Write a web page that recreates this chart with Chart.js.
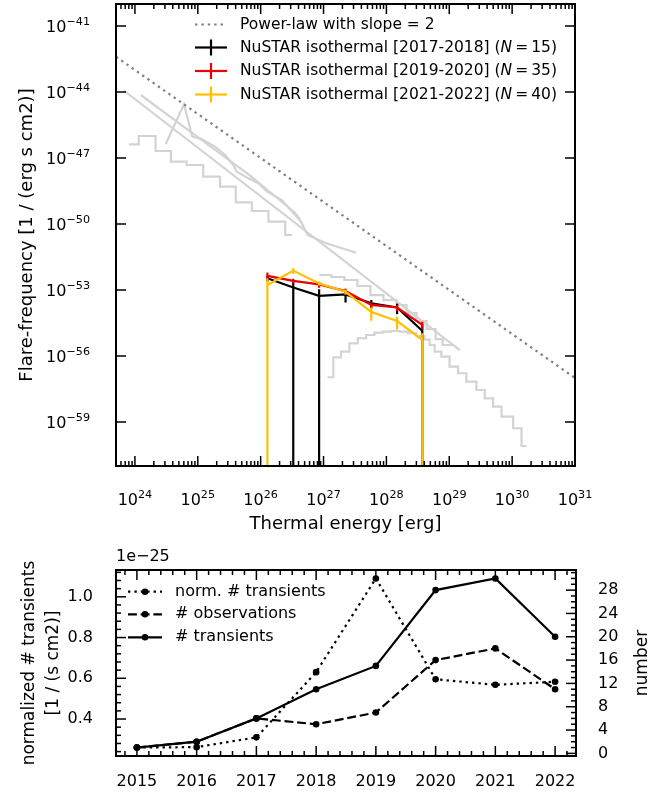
<!DOCTYPE html>
<html>
<head>
<meta charset="utf-8">
<script src="https://cdn.jsdelivr.net/npm/chart.js@4/dist/chart.umd.min.js"></script>
<style>
  html, body { margin: 0; padding: 0; background: #fff; }
  #wrap { position: relative; width: 668px; height: 797px; }
  #topBox { position: absolute; left: 0; top: 0; width: 668px; height: 540px; }
  #botBox { position: absolute; left: 0; top: 540px; width: 668px; height: 257px; }
</style>
</head>
<body>
<div id="wrap">
  <div id="topBox"><canvas id="topCanvas" width="668" height="540"></canvas></div>
  <div id="botBox"><canvas id="botCanvas" width="668" height="257"></canvas></div>
</div>
<script>
// ---------------- Flare-frequency distribution (upper panel) ----------------
// Reference power law with slope 2
const plawEnergy = [5e23, 1e31];
const plawFreq = [4e-43, 1e-57];

// Literature distributions (grey)
const litLineAEnergy = [6.65e23, 1.47e29];
const litLineAFreq = [1.17e-44, 1.87e-56];

const litLineBEnergy = [1.24e24, 1.05e25, 6.56e25, 3.55e26, 4.27e26];
const litLineBFreq = [7.3e-45, 8.1e-47, 1.69e-48, 3.16e-50, 1.52e-50];

const litLineCEnergy = [3.08e24, 6.03e24, 8.17e24, 1.15e25, 1.88e25, 2.72e25, 3.68e25, 4.17e25,
  6.39e25, 9.23e25, 1.26e26, 2.18e26, 4.38e26, 5.57e26, 1.10e27, 3.30e27];
const litLineCFreq = [4.2e-47, 2.76e-45, 9.3e-47, 7.3e-47, 3.27e-47, 1.37e-47, 4.8e-48, 2.38e-48,
  1.19e-48, 7.1e-49, 2.94e-49, 1.23e-49, 1.27e-50, 3.16e-51, 1.33e-51, 4.95e-52];

const litHistDEnergy = [8.0e23, 1.15e24, 2.13e24, 3.74e24, 6.65e24, 1.22e25, 2.26e25, 4.02e25,
  7.24e25, 1.33e26, 2.46e26, 3.15e26];
const litHistDFreq = [4.2e-47, 1.0e-46, 2.08e-47, 6.8e-48, 4.8e-48, 1.41e-48, 4.95e-49, 9.7e-50,
  3.9e-50, 1.27e-50, 3.16e-51, 3.16e-51];

const litHistEEnergy = [8.57e26, 1.33e27, 2.15e27, 3.46e27, 5.57e27, 8.99e27, 1.45e28, 2.09e28,
  3.02e28, 4.36e28, 6.07e28, 7.85e28, 1.13e29];
const litHistEFreq = [4.8e-53, 3.9e-53, 2.85e-53, 1.52e-53, 5.9e-54, 3.5e-54, 2.08e-54, 9.0e-55,
  3.9e-55, 1.69e-55, 5.9e-56, 3.16e-56, 3.16e-56];

const litHistFEnergy = [1.16e27, 1.43e27, 1.90e27, 2.58e27, 3.50e27, 4.76e27, 6.46e27, 8.76e27,
  1.19e28, 1.62e28, 2.19e28, 2.99e28, 4.05e28, 4.87e28, 5.85e28, 7.48e28, 1.01e29, 1.38e29,
  1.87e29, 2.70e29, 3.67e29, 4.98e29, 6.78e29, 1.04e30, 1.41e30, 1.70e30];
const litHistFFreq = [1.08e-57, 8.7e-57, 1.57e-56, 3.78e-56, 6.4e-56, 9.0e-56, 1.15e-55, 1.27e-55,
  1.37e-55, 1.27e-55, 1.08e-55, 8.1e-56, 5.6e-56, 3.16e-56, 1.57e-56, 9.3e-57, 3.27e-57, 1.64e-57,
  6.8e-58, 2.85e-58, 1.19e-58, 4.95e-59, 1.74e-59, 5.2e-60, 8.1e-61, 8.1e-61];

// NuSTAR isothermal distributions, per period
const nustarEnergy = [1.28e26, 3.30e26, 8.51e26, 2.24e27, 5.75e27, 1.48e28, 3.72e28];
const freq1718 = [3.4e-53, 1.3e-53, 5.4e-54, 6.3e-54, 2.5e-54, 1.6e-54, 1.4e-55];
const err1718 = [1.0e-53, 1.3e-53, 5.4e-54, 3.6e-54, 1.0e-54, 8.0e-55, 1.4e-55];
const freq1920 = [4.4e-53, 2.6e-53, 1.8e-53, 8.9e-54, 2.1e-54, 1.6e-54, 2.6e-55];
const err1920 = [1.8e-53, 6.5e-54, 5.4e-54, 2.7e-54, 6.3e-55, 4.8e-55, 1.0e-55];
const freq2122 = [1.7e-53, 7.6e-53, 2.0e-53, 8.3e-54, 1.0e-54, 3.9e-55, 5.4e-56];
const err2122 = [1.7e-53, 2.3e-53, 4.0e-54, 2.1e-54, 6.0e-55, 2.3e-55, 5.4e-56];

const xMajorTicks = [1e24, 1e25, 1e26, 1e27, 1e28, 1e29, 1e30, 1e31];
const yMajorTicks = [1e-41, 1e-44, 1e-47, 1e-50, 1e-53, 1e-56, 1e-59];

// ---------------- Yearly statistics (lower panel) ----------------
const years = [2015, 2016, 2017, 2018, 2019, 2020, 2021, 2022];
const normTransients = [2.60e-26, 2.62e-26, 3.10e-26, 6.30e-26, 1.09e-25, 5.95e-26, 5.68e-26, 5.83e-26];
const nObservations = [1, 2, 6, 5, 7, 16, 18, 11];
const nTransients = [1, 2, 6, 11, 15, 28, 30, 20];
const leftTicks = [0.4e-25, 0.6e-25, 0.8e-25, 1.0e-25];
const rightTicks = [0, 4, 8, 12, 16, 20, 24, 28];

const FONT = "'DejaVu Sans', sans-serif";
const GREY = '#d3d3d3';
const MINUS = '\u2212';

function pts(xs, ys) { return xs.map((x, i) => ({ x, y: ys[i] })); }

function supText(ctx, base, exp, x, y, align, size) {
  ctx.font = size + 'px ' + FONT;
  const wb = ctx.measureText(base).width;
  const es = size * 0.7;
  ctx.font = es + 'px ' + FONT;
  const we = ctx.measureText(exp).width;
  const total = wb + we;
  const x0 = align === 'center' ? x - total / 2 : (align === 'right' ? x - total : x);
  ctx.textAlign = 'left';
  ctx.textBaseline = 'alphabetic';
  ctx.font = size + 'px ' + FONT;
  ctx.fillText(base, x0, y);
  ctx.font = es + 'px ' + FONT;
  ctx.fillText(exp, x0 + wb, y - size * 0.42);
}

function tickLine(ctx, x1, y1, x2, y2) {
  ctx.beginPath(); ctx.moveTo(x1, y1); ctx.lineTo(x2, y2); ctx.stroke();
}

// Vertical error bars drawn right after their own series
const errorBars = {
  id: 'errorBars',
  afterDatasetDraw(chart, args) {
    const ds = chart.data.datasets[args.index];
    if (!ds.yErr) return;
    const { ctx, chartArea: ca } = chart;
    const xs = chart.scales.x, ys = chart.scales.y;
    ctx.save();
    ctx.beginPath();
    ctx.rect(ca.left, ca.top, ca.right - ca.left, ca.bottom - ca.top);
    ctx.clip();
    ctx.strokeStyle = ds.borderColor;
    ctx.lineWidth = ds.borderWidth;
    ds.data.forEach((p, i) => {
      const e = ds.yErr[i];
      const px = xs.getPixelForValue(p.x);
      const top = ys.getPixelForValue(p.y + e);
      const lo = p.y - e;
      const bot = lo > 0 ? ys.getPixelForValue(lo) : ca.bottom + 2;
      tickLine(ctx, px, top, px, bot);
    });
    ctx.restore();
  }
};

const topDecor = {
  id: 'topDecor',
  afterDraw(chart) {
    const { ctx, chartArea: ca } = chart;
    const xs = chart.scales.x, ys = chart.scales.y;
    ctx.save();
    ctx.strokeStyle = '#000';
    ctx.fillStyle = '#000';
    // ticks (pointing inwards, on all four sides)
    ctx.lineWidth = 1.5;
    const lx0 = Math.floor(Math.log10(xs.min)), lx1 = Math.ceil(Math.log10(xs.max));
    for (let n = lx0; n <= lx1; n++) {
      for (let m = 1; m <= 9; m++) {
        const v = m * Math.pow(10, n);
        if (v < xs.min * 0.999 || v > xs.max * 1.001) continue;
        const px = xs.getPixelForValue(v);
        const len = m === 1 ? 10 : 5;
        tickLine(ctx, px, ca.bottom, px, ca.bottom - len);
        tickLine(ctx, px, ca.top, px, ca.top + len);
      }
    }
    yMajorTicks.forEach(v => {
      const py = ys.getPixelForValue(v);
      tickLine(ctx, ca.left, py, ca.left + 10, py);
      tickLine(ctx, ca.right, py, ca.right - 10, py);
    });
    // frame
    ctx.lineWidth = 2;
    ctx.strokeRect(ca.left, ca.top, ca.right - ca.left, ca.bottom - ca.top);
    // tick labels
    xMajorTicks.forEach(v => {
      const px = xs.getPixelForValue(v);
      supText(ctx, '10', String(Math.round(Math.log10(v))), px, 505, 'center', 16);
    });
    yMajorTicks.forEach(v => {
      const py = ys.getPixelForValue(v);
      supText(ctx, '10', MINUS + String(-Math.round(Math.log10(v))), 90, py + 6, 'right', 16);
    });
    // axis titles
    ctx.font = '18px ' + FONT;
    ctx.textAlign = 'center';
    ctx.textBaseline = 'middle';
    ctx.fillText('Thermal energy [erg]', (ca.left + ca.right) / 2, 524);
    ctx.save();
    ctx.translate(27, (ca.top + ca.bottom) / 2);
    ctx.rotate(-Math.PI / 2);
    ctx.fillText('Flare-frequency [1 / (erg s cm2)]', 0, 0);
    ctx.restore();
    // legend
    const hx0 = 195, hx1 = 227, tx = 240;
    const rows = [24.5, 47.5, 71, 94.5];
    ctx.lineWidth = 2.2;
    ctx.strokeStyle = '#808080';
    ctx.setLineDash([2.4, 4]);
    tickLine(ctx, hx0, rows[0], hx1, rows[0]);
    ctx.setLineDash([]);
    const entries = [
      { c: '#000000', p: '[2017-2018]', n: '15' },
      { c: '#ee0000', p: '[2019-2020]', n: '35' },
      { c: '#ffc000', p: '[2021-2022]', n: '40' }
    ];
    ctx.textBaseline = 'middle';
    ctx.textAlign = 'left';
    ctx.fillStyle = '#000';
    ctx.font = '15.5px ' + FONT;
    ctx.fillText('Power-law with slope = 2', tx, rows[0]);
    entries.forEach((e, i) => {
      const y = rows[i + 1];
      ctx.strokeStyle = e.c;
      tickLine(ctx, hx0, y, hx1, y);
      tickLine(ctx, (hx0 + hx1) / 2, y - 8, (hx0 + hx1) / 2, y + 8);
      let x = tx;
      const s1 = 'NuSTAR isothermal ' + e.p + ' (';
      ctx.font = '15.5px ' + FONT;
      ctx.fillText(s1, x, y); x += ctx.measureText(s1).width;
      ctx.font = 'italic 15.5px ' + FONT;
      ctx.fillText('N', x, y); x += ctx.measureText('N').width + 3;
      ctx.font = '15.5px ' + FONT;
      ctx.fillText('=', x, y); x += ctx.measureText('=').width + 3;
      const s2 = e.n + ')';
      ctx.fillText(s2, x, y);
    });
    ctx.restore();
  }
};

const greyLine = (xs, ys, stepped) => ({
  data: pts(xs, ys), showLine: true, borderColor: GREY, borderWidth: 2.2,
  pointRadius: 0, stepped: stepped || false, order: 10
});

const nustarSet = (label, ys, err, color, order) => ({
  label, data: pts(nustarEnergy, ys), yErr: err, showLine: true,
  borderColor: color, backgroundColor: color, borderWidth: 2.2, pointRadius: 0, order
});

new Chart(document.getElementById('topCanvas'), {
  type: 'scatter',
  data: {
    datasets: [
      greyLine(litLineAEnergy, litLineAFreq),
      greyLine(litLineBEnergy, litLineBFreq),
      greyLine(litLineCEnergy, litLineCFreq),
      greyLine(litHistDEnergy, litHistDFreq, true),
      greyLine(litHistEEnergy, litHistEFreq, true),
      greyLine(litHistFEnergy, litHistFFreq, true),
      {
        label: 'Power-law with slope = 2', data: pts(plawEnergy, plawFreq), showLine: true,
        borderColor: '#808080', borderWidth: 2.2, borderDash: [2.4, 4], pointRadius: 0, order: 5
      },
      nustarSet('NuSTAR isothermal [2017-2018]', freq1718, err1718, '#000000', 3),
      nustarSet('NuSTAR isothermal [2019-2020]', freq1920, err1920, '#ee0000', 2),
      nustarSet('NuSTAR isothermal [2021-2022]', freq2122, err2122, '#ffc000', 1)
    ]
  },
  options: {
    responsive: false, animation: false,
    layout: { padding: { left: 0, right: 93, top: 4, bottom: 0 } },
    plugins: { legend: { display: false }, tooltip: { enabled: false } },
    scales: {
      x: {
        type: 'logarithmic', min: 5e23, max: 1e31,
        grid: { display: false }, border: { display: false }, ticks: { display: false },
        afterFit(s) { s.height = 74; }
      },
      y: {
        type: 'logarithmic', min: 1e-61, max: 1e-40,
        grid: { display: false }, border: { display: false }, ticks: { display: false },
        afterFit(s) { s.width = 116; }
      }
    }
  },
  plugins: [errorBars, topDecor]
});

// ---------------- lower panel ----------------
const botDecor = {
  id: 'botDecor',
  afterDraw(chart) {
    const { ctx, chartArea: ca } = chart;
    const xs = chart.scales.x, yl = chart.scales.y, yr = chart.scales.y2;
    ctx.save();
    ctx.strokeStyle = '#000';
    ctx.fillStyle = '#000';
    ctx.lineWidth = 1.5;
    // x ticks: every 0.2 yr, long at whole years
    for (let k = Math.ceil(xs.min * 5 - 1e-6); k <= Math.floor(xs.max * 5 + 1e-6); k++) {
      const px = xs.getPixelForValue(k / 5);
      const len = k % 5 === 0 ? 10 : 5;
      tickLine(ctx, px, ca.bottom, px, ca.bottom - len);
      tickLine(ctx, px, ca.top, px, ca.top + len);
    }
    // left axis ticks: every 0.04e-25
    const step = 0.04e-25;
    for (let k = Math.ceil(yl.min / step - 1e-6); k <= Math.floor(yl.max / step + 1e-6); k++) {
      const py = yl.getPixelForValue(k * step);
      const len = k % 5 === 0 ? 10 : 5;
      tickLine(ctx, ca.left, py, ca.left + len, py);
    }
    // right axis ticks: every 1, long every 4
    for (let k = Math.ceil(yr.min); k <= Math.floor(yr.max); k++) {
      const py = yr.getPixelForValue(k);
      const len = k % 4 === 0 ? 10 : 5;
      tickLine(ctx, ca.right, py, ca.right - len, py);
    }
    ctx.lineWidth = 2;
    ctx.strokeRect(ca.left, ca.top, ca.right - ca.left, ca.bottom - ca.top);
    // labels
    ctx.font = '16px ' + FONT;
    ctx.textBaseline = 'middle';
    ctx.textAlign = 'center';
    years.forEach(yv => ctx.fillText(String(yv), xs.getPixelForValue(yv), 242));
    ctx.textAlign = 'right';
    leftTicks.forEach(v => ctx.fillText((v / 1e-25).toFixed(1), 93, yl.getPixelForValue(v)));
    ctx.textAlign = 'left';
    rightTicks.forEach(v => ctx.fillText(String(v), 598, yr.getPixelForValue(v)));
    ctx.fillText('1e' + MINUS + '25', ca.left, 17);
    // axis titles
    ctx.font = '17px ' + FONT;
    ctx.textAlign = 'center';
    const cy = (ca.top + ca.bottom) / 2;
    ctx.save();
    ctx.translate(30, cy); ctx.rotate(-Math.PI / 2);
    ctx.fillText('normalized # transients', 0, 0);
    ctx.restore();
    ctx.save();
    ctx.translate(54, cy); ctx.rotate(-Math.PI / 2);
    ctx.fillText('[1 / (s cm2)]', 0, 0);
    ctx.restore();
    ctx.save();
    ctx.translate(643, cy); ctx.rotate(-Math.PI / 2);
    ctx.fillText('number', 0, 0);
    ctx.restore();
    // legend
    ctx.font = '16px ' + FONT;
    const rows = [51.7, 74.3, 97.3];
    const dashes = [[2.4, 4], [8.9, 3.8], []];
    const labels = ['norm. # transients', '# observations', '# transients'];
    ctx.lineWidth = 2.2;
    rows.forEach((y, i) => {
      ctx.setLineDash(dashes[i]);
      tickLine(ctx, 128, y, 162, y);
      ctx.setLineDash([]);
      ctx.beginPath(); ctx.arc(145, y, 3.3, 0, Math.PI * 2); ctx.fill();
      ctx.textAlign = 'left';
      ctx.fillText(labels[i], 175, y);
    });
    ctx.restore();
  }
};

const yearSet = (label, ys, axis, dash) => ({
  label, data: pts(years, ys), yAxisID: axis, showLine: true,
  borderColor: '#000', backgroundColor: '#000', borderWidth: 2.2, borderDash: dash,
  pointRadius: 3.3, pointBorderWidth: 0, pointBackgroundColor: '#000'
});

new Chart(document.getElementById('botCanvas'), {
  type: 'scatter',
  data: {
    datasets: [
      yearSet('norm. # transients', normTransients, 'y', [2.4, 4]),
      yearSet('# observations', nObservations, 'y2', [8.9, 3.8]),
      yearSet('# transients', nTransients, 'y2', [])
    ]
  },
  options: {
    responsive: false, animation: false,
    layout: { padding: { left: 0, right: 0, top: 30, bottom: 0 } },
    plugins: { legend: { display: false }, tooltip: { enabled: false } },
    scales: {
      x: {
        type: 'linear', min: 2014.65, max: 2022.35,
        grid: { display: false }, border: { display: false }, ticks: { display: false },
        afterFit(s) { s.height = 41; }
      },
      y: {
        type: 'linear', position: 'left', min: 2.185e-26, max: 1.1315e-25,
        grid: { display: false }, border: { display: false }, ticks: { display: false },
        afterFit(s) { s.width = 116; }
      },
      y2: {
        type: 'linear', position: 'right', min: -0.45, max: 31.45,
        grid: { display: false }, border: { display: false }, ticks: { display: false },
        afterFit(s) { s.width = 92; }
      }
    }
  },
  plugins: [botDecor]
});
</script>
</body>
</html>
